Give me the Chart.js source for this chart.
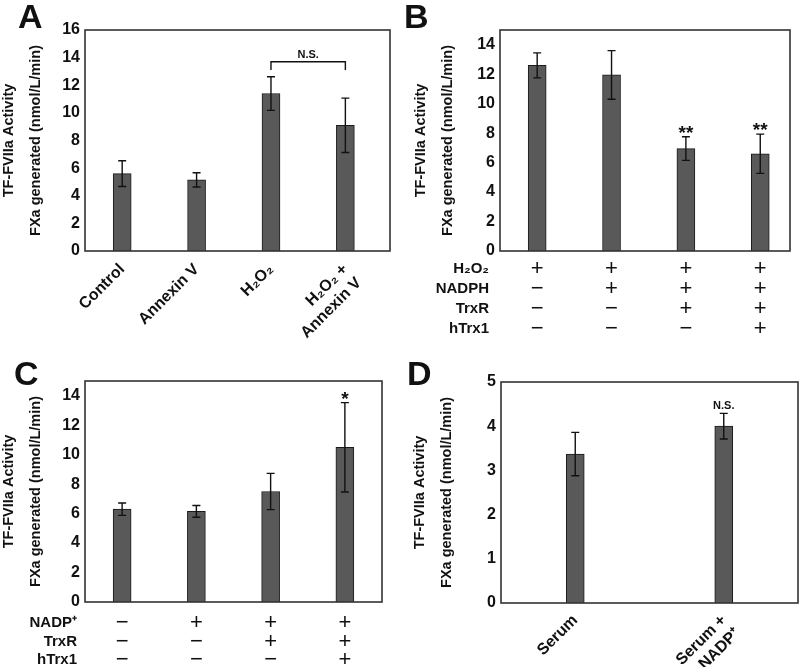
<!DOCTYPE html>
<html>
<head>
<meta charset="utf-8">
<script src="https://cdn.jsdelivr.net/npm/chart.js@4.4.1/dist/chart.umd.min.js"></script>
<style>
    body { margin: 0; background: #fff }
    .figura { position: relative; width: 800px; height: 667px; font-family: 'Liberation Sans', Arial, sans-serif; overflow: hidden }
    .figura canvas { position: absolute }
    .letra { position: absolute; font-size: 34px; font-weight: bold; line-height: 34px; color: #111 }
</style>
</head>
<body>
<div class="figura">
    <canvas id="graficoA" width="400" height="348" style="left:0;top:0"></canvas>
    <canvas id="graficoB" width="400" height="348" style="left:400px;top:0"></canvas>
    <canvas id="graficoC" width="400" height="334" style="left:0;top:333px"></canvas>
    <canvas id="graficoD" width="400" height="334" style="left:400px;top:333px"></canvas>
    <div class="letra" style="left:18px;top:-1px">A</div>
    <div class="letra" style="left:404px;top:-1px">B</div>
    <div class="letra" style="left:14px;top:356px">C</div>
    <div class="letra" style="left:407px;top:356px">D</div>
</div>
<script>
const FONTE = "'Liberation Sans', Arial, sans-serif"
const TITULO_Y = ['TF-FVIIa Activity', 'FXa generated (nmol/L/min)']

// painel A
const categoriasA = ['Control', 'Annexin V', 'H₂O₂', ['H₂O₂ +', 'Annexin V']]
const valoresA = [5.6, 5.15, 11.4, 9.1]
const errosA = [0.93, 0.52, 1.22, 1.97]
const ticksA = [0, 2, 4, 6, 8, 10, 12, 14, 16]
const chaveA = { de: 2, ate: 3, y: 13.7, perna: 13.1, texto: 'N.S.' }

// painel B
const linhasB = ['H₂O₂', 'NADPH', 'TrxR', 'hTrx1']
const sinaisB = [
    ['+', '−', '−', '−'],
    ['+', '+', '−', '−'],
    ['+', '+', '+', '−'],
    ['+', '+', '+', '+']
]
const valoresB = [12.6, 11.95, 6.95, 6.6]
const errosB = [0.85, 1.65, 0.8, 1.33]
const marcasB = ['', '', '**', '**']
const ticksB = [0, 2, 4, 6, 8, 10, 12, 14]

// painel C
const linhasC = ['NADP⁺', 'TrxR', 'hTrx1']
const sinaisC = [
    ['−', '−', '−'],
    ['+', '−', '−'],
    ['+', '+', '−'],
    ['+', '+', '+']
]
const valoresC = [6.3, 6.15, 7.5, 10.5]
const errosC = [0.42, 0.4, 1.23, 3.03]
const marcasC = ['', '', '', '*']
const ticksC = [0, 2, 4, 6, 8, 10, 12, 14]

// painel D
const categoriasD = ['Serum', ['Serum +', 'NADP⁺']]
const valoresD = [3.37, 4.0]
const errosD = [0.49, 0.29]
const marcasD = ['', 'N.S.']
const ticksD = [0, 1, 2, 3, 4, 5]

Chart.defaults.font.family = FONTE
Chart.defaults.color = '#111'

// caixa, barras de erro, marcas e nomes das linhas
const extras = {
    id: 'extras',
    afterDraw(chart, args, op) {
        const ctx = chart.ctx
        const area = chart.chartArea
        const x = chart.scales.x
        const y = chart.scales.y
        const dados = chart.data.datasets[0].data

        ctx.save()
        ctx.strokeStyle = '#111'
        ctx.lineWidth = 1.4
        op.erros.forEach((e, i) => {
            const px = x.getPixelForValue(i)
            const cima = y.getPixelForValue(dados[i].y + e)
            const baixo = y.getPixelForValue(dados[i].y - e)
            ctx.beginPath()
            ctx.moveTo(px, cima)
            ctx.lineTo(px, baixo)
            ctx.moveTo(px - 4, cima)
            ctx.lineTo(px + 4, cima)
            ctx.moveTo(px - 4, baixo)
            ctx.lineTo(px + 4, baixo)
            ctx.stroke()
        })

        ctx.fillStyle = '#111'
        ctx.textAlign = 'center'
        ctx.textBaseline = 'alphabetic'
        if (op.marcas) {
            ctx.font = `bold ${op.tamMarca}px ${FONTE}`
            op.marcas.forEach((m, i) => {
                if (!m) return
                const topo = y.getPixelForValue(dados[i].y + op.erros[i])
                ctx.fillText(m, x.getPixelForValue(i), topo - op.distMarca)
            })
        }

        if (op.chave) {
            const c = op.chave
            const x1 = x.getPixelForValue(c.de)
            const x2 = x.getPixelForValue(c.ate)
            const yc = y.getPixelForValue(c.y)
            const yp = y.getPixelForValue(c.perna)
            ctx.lineWidth = 1.4
            ctx.beginPath()
            ctx.moveTo(x1, yp)
            ctx.lineTo(x1, yc)
            ctx.lineTo(x2, yc)
            ctx.lineTo(x2, yp)
            ctx.stroke()
            ctx.font = `bold 11px ${FONTE}`
            ctx.fillText(c.texto, (x1 + x2) / 2, yc - 4)
        }

        if (op.linhas) {
            const fonteTick = Chart.helpers.toFont(x.options.ticks.font)
            const inicio = x.top + x.options.ticks.padding + fonteTick.lineHeight / 2
            ctx.font = `bold 15px ${FONTE}`
            ctx.textAlign = 'right'
            ctx.textBaseline = 'middle'
            op.linhas.forEach((nome, i) => {
                ctx.fillText(nome, area.left + op.recuoLinhas, inicio + i * fonteTick.lineHeight)
            })
        }

        ctx.strokeStyle = '#333'
        ctx.lineWidth = 1.6
        ctx.strokeRect(area.left, area.top, area.right - area.left, area.bottom - area.top)
        ctx.restore()
    }
}

function montarPainel(id, p) {
    const pontos = p.valores.map((v, i) => ({ x: i, y: v }))

    new Chart(document.getElementById(id), {
        type: 'bar',
        data: {
            datasets: [{
                data: pontos,
                backgroundColor: '#595959',
                borderColor: '#1a1a1a',
                borderWidth: 1,
                barThickness: 18
            }]
        },
        options: {
            responsive: false,
            animation: false,
            layout: { padding: p.margem },
            plugins: {
                legend: { display: false },
                tooltip: { enabled: false },
                extras: {
                    erros: p.erros,
                    marcas: p.marcas,
                    tamMarca: p.tamMarca,
                    distMarca: p.distMarca,
                    chave: p.chave,
                    linhas: p.linhas,
                    recuoLinhas: p.recuoLinhas
                }
            },
            scales: {
                x: {
                    type: 'linear',
                    offset: false,
                    min: p.minX,
                    max: p.maxX,
                    grid: { display: false, drawTicks: false },
                    border: { display: false },
                    afterBuildTicks: s => { s.ticks = p.categorias.map((c, i) => ({ value: i })) },
                    afterFit: s => { s.height = p.alturaX },
                    ticks: {
                        autoSkip: false,
                        color: '#111',
                        padding: p.padX,
                        minRotation: p.rotacao,
                        maxRotation: p.rotacao,
                        font: p.fonteX,
                        callback: v => p.categorias[v]
                    }
                },
                y: {
                    min: 0,
                    max: p.maxY,
                    grid: { display: false, drawTicks: false },
                    border: { display: false },
                    afterBuildTicks: s => { s.ticks = p.ticksY.map(v => ({ value: v })) },
                    afterFit: s => { s.width = p.larguraY },
                    ticks: {
                        color: '#111',
                        padding: 5,
                        font: { size: 16, weight: 'bold' }
                    },
                    title: {
                        display: true,
                        text: TITULO_Y,
                        color: '#111',
                        font: { size: 14.5, weight: 'bold', lineHeight: '27px' },
                        padding: { top: p.recuoTitulo, bottom: 0 }
                    }
                }
            }
        },
        plugins: [extras]
    })
}

montarPainel('graficoA', {
    categorias: categoriasA,
    valores: valoresA,
    erros: errosA,
    ticksY: ticksA,
    maxY: 16,
    minX: -0.5,
    maxX: 3.6,
    chave: chaveA,
    margem: { top: 30, right: 10, left: 0, bottom: 0 },
    larguraY: 85,
    alturaX: 97,
    recuoTitulo: -4.5,
    rotacao: 45,
    padX: 9,
    fonteX: { size: 16, weight: 'bold' }
})

montarPainel('graficoB', {
    categorias: sinaisB,
    valores: valoresB,
    erros: errosB,
    marcas: marcasB,
    tamMarca: 19,
    distMarca: -2,
    linhas: linhasB,
    recuoLinhas: -11,
    ticksY: ticksB,
    maxY: 15,
    minX: -0.5,
    maxX: 3.4,
    margem: { top: 30, right: 10, left: 0, bottom: 0 },
    larguraY: 100,
    alturaX: 97,
    recuoTitulo: 7.5,
    rotacao: 0,
    padX: 8,
    fonteX: { size: 22, weight: 'normal', lineHeight: '20px' }
})

montarPainel('graficoC', {
    categorias: sinaisC,
    valores: valoresC,
    erros: errosC,
    marcas: marcasC,
    tamMarca: 19,
    distMarca: -2,
    linhas: linhasC,
    recuoLinhas: -8,
    ticksY: ticksC,
    maxY: 15,
    minX: -0.5,
    maxX: 3.5,
    margem: { top: 48, right: 18, left: 0, bottom: 0 },
    larguraY: 85,
    alturaX: 65,
    recuoTitulo: -4.5,
    rotacao: 0,
    padX: 12,
    fonteX: { size: 22, weight: 'normal', lineHeight: '18.5px' }
})

montarPainel('graficoD', {
    categorias: categoriasD,
    valores: valoresD,
    erros: errosD,
    marcas: marcasD,
    tamMarca: 11,
    distMarca: 4,
    ticksY: ticksD,
    maxY: 5,
    minX: -0.5,
    maxX: 1.5,
    margem: { top: 49, right: 2, left: 0, bottom: 0 },
    larguraY: 101,
    alturaX: 64,
    recuoTitulo: 6.5,
    rotacao: 45,
    padX: 8,
    fonteX: { size: 16, weight: 'bold' }
})
</script>
</body>
</html>
